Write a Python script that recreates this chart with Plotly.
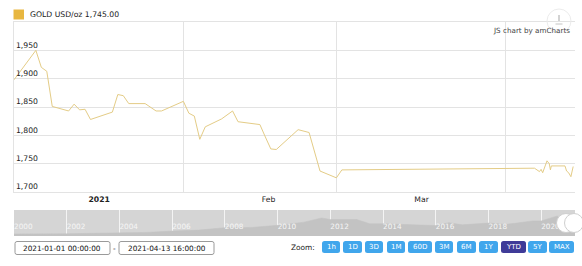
import plotly.graph_objects as go

# ---------------- data ----------------
gold_dates = [
    "2021-01-01", "2021-01-05", "2021-01-06", "2021-01-07", "2021-01-08",
    "2021-01-11", "2021-01-12", "2021-01-13", "2021-01-14", "2021-01-15",
    "2021-01-19", "2021-01-20", "2021-01-21", "2021-01-22", "2021-01-25",
    "2021-01-27", "2021-01-28", "2021-02-01", "2021-02-02", "2021-02-03",
    "2021-02-04", "2021-02-05", "2021-02-08", "2021-02-10", "2021-02-11",
    "2021-02-15", "2021-02-16", "2021-02-17", "2021-02-18", "2021-02-22",
    "2021-02-24", "2021-02-26", "2021-03-01", "2021-03-02",
    "2021-04-06 06:00", "2021-04-06 20:00", "2021-04-07 04:00", "2021-04-07 11:00",
    "2021-04-07 18:00", "2021-04-08 05:00", "2021-04-08 13:00", "2021-04-08 23:00",
    "2021-04-09 04:00", "2021-04-09 08:00", "2021-04-09 17:00", "2021-04-11 20:00",
    "2021-04-12 03:00", "2021-04-12 12:00", "2021-04-12 22:00", "2021-04-13 03:00",
    "2021-04-13 08:00",
]
gold_prices = [
    1898, 1950, 1920, 1913, 1851,
    1843, 1855, 1845, 1846, 1828,
    1841, 1872, 1870, 1856, 1856,
    1843, 1843, 1860, 1839, 1834,
    1793, 1815, 1829, 1843, 1824,
    1819, 1797, 1776, 1775, 1810,
    1805, 1737, 1725, 1739,
    1742, 1739, 1736, 1740,
    1734, 1746, 1755, 1750,
    1739, 1746, 1746, 1746,
    1737, 1734, 1727, 1736,
    1745,
]

# long-history series shown in the scrollbar
hist_dates = [
    "2000-01-01", "2001-01-01", "2002-01-01", "2003-01-01", "2004-01-01",
    "2005-01-01", "2006-01-01", "2007-01-01", "2008-01-01", "2009-01-01",
    "2010-01-01", "2011-01-01", "2011-09-01", "2012-01-01", "2013-01-01",
    "2013-07-01", "2014-01-01", "2015-01-01", "2016-01-01", "2016-07-01",
    "2017-01-01", "2018-01-01", "2018-09-01", "2019-01-01", "2019-09-01",
    "2020-01-01", "2020-08-01", "2021-01-01", "2021-04-13",
]
hist_prices = [
    285, 270, 300, 350, 410,
    430, 560, 650, 880, 900,
    1100, 1400, 1800, 1650, 1650,
    1250, 1250, 1200, 1080, 1350,
    1150, 1320, 1200, 1290, 1520,
    1520, 1970, 1900, 1745,
]

y_tick_vals = [1700, 1750, 1800, 1850, 1900, 1950]
month_starts = ["2021-02-01", "2021-03-01", "2021-04-01"]
month_label_dates = ["2021-01-16 14:00", "2021-02-16 14:00", "2021-03-16 14:00"]
month_labels = ["<b>2021</b>", "Feb", "Mar"]

legend_text = "GOLD USD/oz 1,745.00"
credit_text = "JS chart by amCharts"
range_start_text = "2021-01-01 00:00:00"
range_end_text = "2021-04-13 16:00:00"
zoom_label = "Zoom:"
zoom_buttons = ["1h", "1D", "3D", "1M", "60D", "3M", "6M", "1Y", "YTD", "5Y", "MAX"]
active_button = "YTD"

# ---------------- layout helpers ----------------
W, H = 582, 266
FONT = "DejaVu Sans"


def X(px):
    return px / W


def Y(py):
    return 1 - py / H


def rrect(x0, y0, x1, y1, r):
    pts = [
        f"M{X(x0 + r)},{Y(y0)}", f"L{X(x1 - r)},{Y(y0)}",
        f"Q{X(x1)},{Y(y0)} {X(x1)},{Y(y0 + r)}", f"L{X(x1)},{Y(y1 - r)}",
        f"Q{X(x1)},{Y(y1)} {X(x1 - r)},{Y(y1)}", f"L{X(x0 + r)},{Y(y1)}",
        f"Q{X(x0)},{Y(y1)} {X(x0)},{Y(y1 - r)}", f"L{X(x0)},{Y(y0 + r)}",
        f"Q{X(x0)},{Y(y0)} {X(x0 + r)},{Y(y0)}", "Z",
    ]
    return " ".join(pts)


PL, PR = 14, 575          # plot left/right px
MT, MB = 22, 192          # main plot top/bottom px
ST, SB = 210, 236         # scrollbar top/bottom px
GRID = "#e3e3e3"
GOLD = "#e8b740"

fig = go.Figure()

fig.add_trace(go.Scatter(
    x=gold_dates, y=gold_prices, mode="lines",
    line=dict(color="#e4cc86", width=1),
    xaxis="x", yaxis="y", hoverinfo="skip",
))
fig.add_trace(go.Scatter(
    x=hist_dates, y=hist_prices, mode="lines", fill="tozeroy",
    line=dict(color="#c3c3c3", width=0.5), fillcolor="#c3c3c3",
    xaxis="x2", yaxis="y2", hoverinfo="skip",
))

shapes = []
annotations = []

# scrollbar background
shapes.append(dict(type="rect", xref="paper", yref="paper", layer="below",
                   x0=X(PL), x1=X(PR), y0=Y(SB), y1=Y(ST),
                   fillcolor="#d5d5d5", line=dict(width=0)))
# scrollbar grips
for cx in (566, 574):
    shapes.append(dict(type="circle", xref="paper", yref="paper",
                       x0=X(cx - 9.5), x1=X(cx + 9.5), y0=Y(232.5), y1=Y(213.5),
                       fillcolor="white", line=dict(color="#cfcfcf", width=1)))

# legend marker + text
shapes.append(dict(type="rect", xref="paper", yref="paper",
                   x0=X(13.5), x1=X(24), y0=Y(19.5), y1=Y(9.5),
                   fillcolor=GOLD, line=dict(width=0)))
annotations.append(dict(text=legend_text, x=X(28), y=Y(14.5), xref="paper", yref="paper",
                        xanchor="left", yanchor="middle", showarrow=False,
                        font=dict(family=FONT, size=7.7, color="#222")))

# export button (faint)
shapes.append(dict(type="circle", xref="paper", yref="paper",
                   x0=X(547), x1=X(571), y0=Y(33), y1=Y(9),
                   fillcolor="rgba(255,255,255,0)", line=dict(color="#ececec", width=1)))
shapes.append(dict(type="line", xref="paper", yref="paper",
                   x0=X(559), x1=X(559), y0=Y(15), y1=Y(21),
                   line=dict(color="#c4c4c4", width=1.5)))
shapes.append(dict(type="line", xref="paper", yref="paper",
                   x0=X(555.5), x1=X(562.5), y0=Y(24), y1=Y(24),
                   line=dict(color="#c4c4c4", width=1)))

annotations.append(dict(text=credit_text, x=X(572), y=Y(30.5), xref="paper", yref="paper",
                        xanchor="right", yanchor="middle", showarrow=False,
                        font=dict(family=FONT, size=7.2, color="#444")))

# date range boxes
for (bx0, bx1), txt in zip([(15, 110), (119, 214)], [range_start_text, range_end_text]):
    shapes.append(dict(type="path", xref="paper", yref="paper", path=rrect(bx0, 241.5, bx1, 254.5, 2),
                       fillcolor="white", line=dict(color="#9a9a9a", width=1)))
    annotations.append(dict(text=txt, x=X((bx0 + bx1) / 2), y=Y(248.3), xref="paper", yref="paper",
                            xanchor="center", yanchor="middle", showarrow=False,
                            font=dict(family=FONT, size=7.3, color="#111")))
annotations.append(dict(text="-", x=X(114.5), y=Y(248), xref="paper", yref="paper",
                        xanchor="center", yanchor="middle", showarrow=False,
                        font=dict(family=FONT, size=7.3, color="#111")))

# zoom buttons
annotations.append(dict(text=zoom_label, x=X(317), y=Y(247.3), xref="paper", yref="paper",
                        xanchor="right", yanchor="middle", showarrow=False,
                        font=dict(family=FONT, size=7.4, color="#222")))
button_px = [(322, 340), (343, 362), (365, 383), (387, 405), (408, 432), (435, 453),
             (457, 476), (479, 498), (501, 526), (528, 547), (549, 574)]
for lbl, (bx0, bx1) in zip(zoom_buttons, button_px):
    col = "#3f3b98" if lbl == active_button else "#40a6ec"
    shapes.append(dict(type="path", xref="paper", yref="paper", path=rrect(bx0, 241, bx1, 253, 2.5),
                       fillcolor=col, line=dict(width=0)))
    annotations.append(dict(text=lbl, x=X((bx0 + bx1) / 2), y=Y(247.2), xref="paper", yref="paper",
                            xanchor="center", yanchor="middle", showarrow=False,
                            font=dict(family=FONT, size=7, color="white")))

fig.update_layout(
    width=W, height=H,
    margin=dict(l=0, r=0, t=0, b=0),
    paper_bgcolor="white", plot_bgcolor="white",
    showlegend=False,
    shapes=shapes, annotations=annotations,
    xaxis=dict(
        type="date", domain=[X(PL), X(PR)], anchor="y",
        range=["2021-01-01", "2021-04-13 16:00"],
        tickmode="array", tickvals=month_label_dates, ticktext=month_labels,
        showgrid=False, ticks="", zeroline=False,
        showline=True, mirror=True, linecolor=GRID, linewidth=1,
        tickfont=dict(family=FONT, size=7.7, color="#222"),
        minor=dict(tickmode="array", tickvals=month_starts, showgrid=True,
                   gridcolor=GRID, gridwidth=1, ticks=""),
        automargin=False, fixedrange=True,
    ),
    yaxis=dict(
        domain=[Y(MB), Y(MT)], anchor="x",
        range=[1700, 2000],
        tickmode="array", tickvals=y_tick_vals, tickformat=",",
        ticklabelposition="inside top", ticks="",
        showgrid=True, gridcolor=GRID, gridwidth=1, zeroline=False,
        showline=True, linecolor=GRID, linewidth=1,
        tickfont=dict(family=FONT, size=7.7, color="#222"),
        automargin=False, fixedrange=True,
    ),
    xaxis2=dict(
        type="date", domain=[X(PL), X(PR)], anchor="y2",
        range=["2000-01-01", "2021-04-13 16:00"],
        dtick="M24", tick0="2000-01-01", tickformat="%Y",
        ticklabelposition="inside right", ticks="",
        showgrid=True, gridcolor="#f4f4f4", gridwidth=1, zeroline=False,
        showline=False,
        tickfont=dict(family=FONT, size=7.3, color="#f6f6f6"),
        automargin=False, fixedrange=True,
    ),
    yaxis2=dict(
        domain=[Y(SB), Y(ST)], anchor="x2",
        range=[90, 2550], showgrid=False, showticklabels=False,
        zeroline=False, showline=False, ticks="",
        automargin=False, fixedrange=True,
    ),
)

fig.write_html("out.html")
